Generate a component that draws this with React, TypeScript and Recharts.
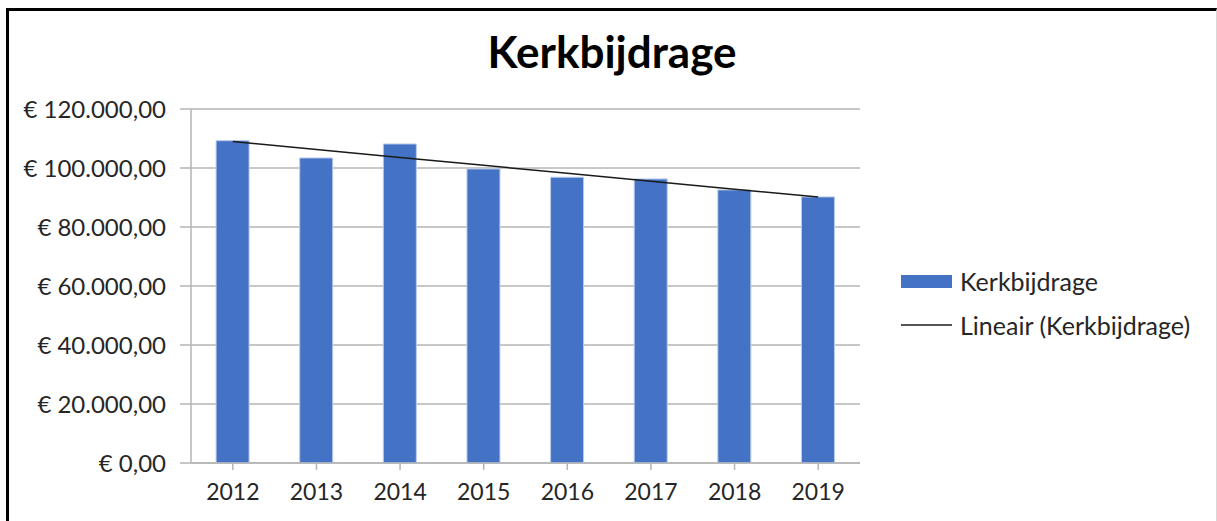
import {
  Bar,
  CartesianGrid,
  ComposedChart,
  Line,
  XAxis,
  YAxis,
} from "recharts";

const years = ["2012", "2013", "2014", "2015", "2016", "2017", "2018", "2019"];
const kerkbijdrage = [109260, 103400, 108150, 99680, 96870, 96290, 92570, 90200];
const lineair = [108970, 106280, 103590, 100900, 98210, 95520, 92830, 90140];
const yTicks = [0, 20000, 40000, 60000, 80000, 100000, 120000];

const data = years.map((year, i) => ({
  year,
  kerkbijdrage: kerkbijdrage[i],
  lineair: lineair[i],
}));

const FONT = "Lato, 'Open Sans', sans-serif";

const euro = (v: number) =>
  "€ " +
  v.toLocaleString("nl-NL", { minimumFractionDigits: 2, maximumFractionDigits: 2 });

export default function App() {
  return (
    <div
      style={{
        position: "absolute",
        left: 0,
        top: 0,
        width: 1217,
        height: 521,
        background: "#fff",
        fontFamily: FONT,
      }}
    >
      <div
        style={{
          position: "absolute",
          left: 6,
          top: 8,
          width: 1207,
          height: 513,
          borderLeft: "3px solid #000",
          borderTop: "3px solid #000",
          borderRight: "1px solid #d8d8d8",
        }}
      />
      <div
        style={{
          position: "absolute",
          left: 0,
          width: 1224,
          top: 25,
          textAlign: "center",
          fontWeight: 700,
          fontSize: 44,
          color: "#000",
        }}
      >
        Kerkbijdrage
      </div>

      <div style={{ position: "absolute", left: 0, top: 0 }}>
        <ComposedChart
          width={1217}
          height={521}
          data={data}
          margin={{ top: 109, right: 357, bottom: 28, left: 0 }}
          barCategoryGap="30%"
        >
          <CartesianGrid vertical={false} stroke="#b4b4b4" strokeWidth={1.5} />
          <XAxis
            dataKey="year"
            height={30}
            stroke="#b4b4b4"
            strokeWidth={1.5}
            tickSize={7}
            tick={{ fill: "#262626", fontSize: 23, fontFamily: FONT }}
            tickMargin={14}
            interval={0}
          />
          <YAxis
            width={191}
            domain={[0, 120000]}
            ticks={yTicks}
            tickFormatter={euro}
            stroke="#b4b4b4"
            strokeWidth={1.5}
            tickSize={11}
            tickMargin={14}
            tick={{ fill: "#262626", fontSize: 24, fontFamily: FONT }}
          />
          <Bar
            dataKey="kerkbijdrage"
            fill="#4472C4"
            stroke="#b9cbeb"
            strokeWidth={1}
            isAnimationActive={false}
          />
          <Line
            dataKey="lineair"
            stroke="#1a1a1a"
            strokeWidth={1.5}
            dot={false}
            isAnimationActive={false}
          />
        </ComposedChart>
      </div>

      <div style={{ position: "absolute", left: 901, top: 266, fontSize: 25, color: "#262626" }}>
        <div style={{ display: "flex", alignItems: "center", height: 30 }}>
          <span style={{ width: 51, height: 13, background: "#4472C4", marginRight: 8 }} />
          Kerkbijdrage
        </div>
        <div style={{ display: "flex", alignItems: "center", height: 30, marginTop: 14 }}>
          <span style={{ width: 51, height: 1.5, background: "#555", marginRight: 8 }} />
          Lineair (Kerkbijdrage)
        </div>
      </div>
    </div>
  );
}
